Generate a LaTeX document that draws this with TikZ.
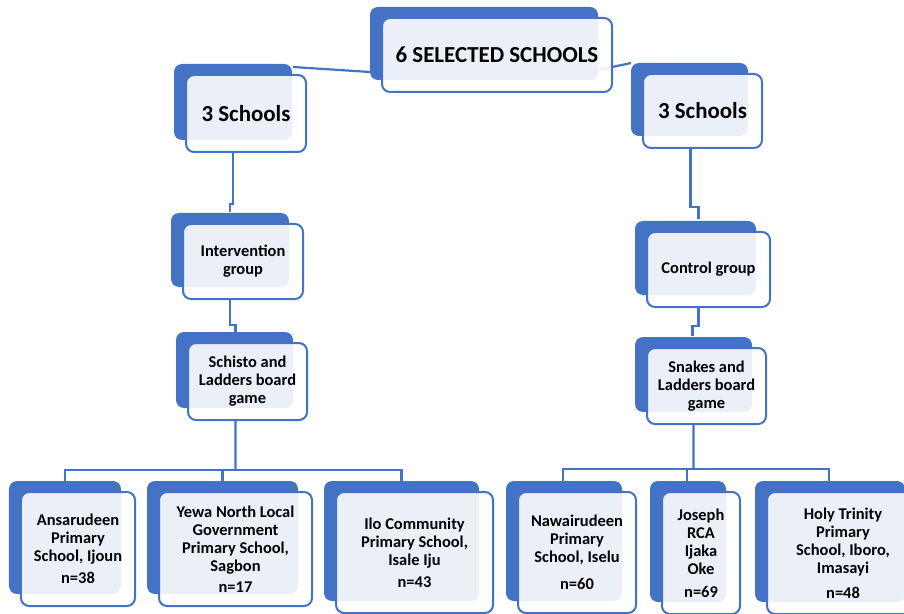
\documentclass[tikz,border=0pt]{standalone}
\usepackage{fontspec}
\setmainfont{Carlito}
\usetikzlibrary{backgrounds}
\definecolor{boxblue}{RGB}{68,114,196}
\begin{document}
\begin{tikzpicture}
        [x=1bp, y=-1bp,
        schoolbox/.style={draw=boxblue, line width=2bp, rounded corners=8bp, fill=white, fill opacity=0.89, text opacity=1, align=center, inner sep=0pt, font=\bfseries\fontsize{16.5}{18}\selectfont},
        backbox/.style={fill=boxblue, rounded corners=8bp},
        link/.style={draw=boxblue, line width=2.2bp}]
        \useasboundingbox (0,0) rectangle (904,614);
        \node[schoolbox, minimum width=230bp, minimum height=74bp, font=\bfseries\fontsize{23}{27}\selectfont] (selected) at (497,55) {6 SELECTED SCHOOLS};
        \node[schoolbox, minimum width=120bp, minimum height=77bp, font=\bfseries\fontsize{23}{27}\selectfont] (lthree) at (246,113.5) {3 Schools};
        \node[schoolbox, minimum width=119bp, minimum height=74bp, font=\bfseries\fontsize{23}{27}\selectfont] (rthree) at (702.5,111) {3 Schools};
        \node[schoolbox, minimum width=120bp, minimum height=75bp] (interv) at (243,261.5) {Intervention\\group};
        \node[schoolbox, minimum width=119bp, minimum height=77bp] (schisto) at (247.5,381.5) {Schisto and\\Ladders board\\game};
        \node[schoolbox, minimum width=123bp, minimum height=75bp] (control) at (708.5,269.5) {Control group};
        \node[schoolbox, minimum width=119bp, minimum height=76bp] (snakes) at (706.5,386) {Snakes and\\Ladders board\\game};
        
        \node[schoolbox, minimum width=114bp, minimum height=114bp] (ansar) at (78,549) {Ansarudeen\\Primary\\School, Ijoun\\[4bp]n=38};
        \node[schoolbox, minimum width=153bp, minimum height=114bp] (yewa) at (235.5,549) {Yewa North Local\\Government\\Primary School,\\Sagbon\\[3bp]n=17};
        \node[schoolbox, minimum width=157bp, minimum height=121bp] (ilo) at (414.5,552.5) {Ilo Community\\Primary School,\\Isale Iju\\[4bp]n=43};
        \node[schoolbox, minimum width=118bp, minimum height=121bp] (nawai) at (577,552.5) {Nawairudeen\\Primary\\School, Iselu\\[9bp]n=60};
        \node[schoolbox, minimum width=78bp, minimum height=122bp] (joseph) at (701,553) {Joseph\\RCA\\Ijaka\\Oke\\[5bp]n=69};
        \node[schoolbox, minimum width=152bp, minimum height=122bp] (holy) at (843,553) {Holy Trinity\\Primary\\School, Iboro,\\Imasayi\\[7bp]n=48};
        
        \begin{pgfonlayer}{background}
        \draw[link] ([shift={(-11,17)}]selected.west) -- ([shift={(-14,-7)}]lthree.north east);
        \draw[link] ([shift={(-15,15)}]selected.east) -- ([shift={(-11,-10)}]rthree.north west);
        \draw[link] ([xshift=-13bp]lthree.south) -- ++(0,51) -| ([shift={(-13,-11)}]interv.north);
        \draw[link] ([xshift=-13bp]interv.south) -- ++(0,25) -| ([shift={(-12,-10)}]schisto.north);
        \draw[link] ([xshift=-12bp]rthree.south) -- ++(0,58) -| ([shift={(-10,-12)}]control.north);
        \draw[link] ([xshift=-10bp]control.south) -- ++(0,18) -| ([shift={(-14,-11)}]snakes.north);
        
        \coordinate (lbus) at ([shift={(-12,49)}]schisto.south);
        \coordinate (rbus) at ([shift={(-13,44)}]snakes.south);
        \draw[link] ([xshift=-12bp]schisto.south) -- (lbus);
        \draw[link] ([xshift=-13bp]snakes.south) -- (rbus);
        \foreach \c in {ansar,yewa,ilo}
            \draw[link] (lbus) -| ([shift={(-13,-10)}]\c.north);
        \foreach \c in {nawai,joseph,holy}
            \draw[link] (rbus) -| ([shift={(-14,-10)}]\c.north);
        
        \foreach \n in {selected,lthree,rthree,interv,schisto,control,snakes,ansar,yewa,ilo,nawai,joseph,holy}
            \fill[backbox] ([shift={(-11,-10)}]\n.north west) rectangle ([shift={(-15,-13)}]\n.south east);
        \end{pgfonlayer}
    
    \end{tikzpicture}
\end{document}
